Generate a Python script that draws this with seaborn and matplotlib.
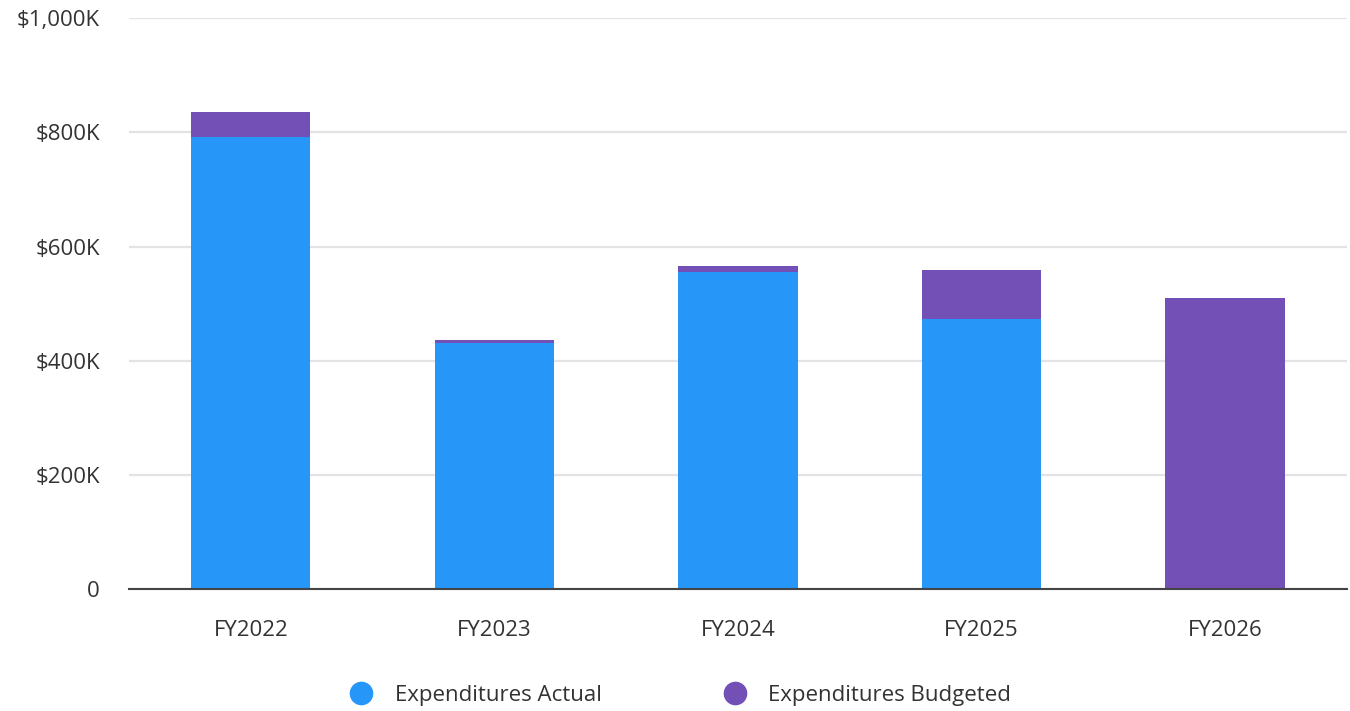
import matplotlib
matplotlib.use("Agg")
import matplotlib.pyplot as plt
from matplotlib.lines import Line2D
from matplotlib.ticker import FuncFormatter
import seaborn as sns
import pandas as pd

# Expenditures by fiscal year (thousands of dollars)
years = ["FY2022", "FY2023", "FY2024", "FY2025", "FY2026"]
actual = [791, 431, 555, 473, 0]
budgeted = [44, 5, 10, 86, 510]

series_names = ["Expenditures Actual", "Expenditures Budgeted"]
colors = ["#2697F9", "#7250B5"]
text_color = "#333333"

sns.set_theme(style="white")
plt.rcParams["font.family"] = ["Open Sans", "DejaVu Sans"]

df = pd.DataFrame({"year": years, "actual": actual, "budgeted": budgeted})
df["total"] = df["actual"] + df["budgeted"]

fig = plt.figure(figsize=(13.5, 7.11), dpi=100)
ax = fig.add_axes([0.0956, 0.1712, 0.902, 0.8035])

# Stacked bars: full height in the budget colour, actual drawn over it
sns.barplot(data=df, x="year", y="total", color=colors[1], width=0.49,
            saturation=1, ax=ax, zorder=3, linewidth=0)
sns.barplot(data=df, x="year", y="actual", color=colors[0], width=0.49,
            saturation=1, ax=ax, zorder=4, linewidth=0)

ax.set_xlim(-0.5, len(years) - 0.5)
ax.set_ylim(0, 1000)
ax.set_yticks([0, 200, 400, 600, 800, 1000])
ax.yaxis.set_major_formatter(
    FuncFormatter(lambda v, _: "0" if v == 0 else f"${v:,.0f}K"))
ax.grid(axis="y", color="#e3e3e3", linewidth=1.6, zorder=0)
ax.grid(axis="x", visible=False)
ax.set_xlabel("")
ax.set_ylabel("")

for side in ["top", "right", "left"]:
    ax.spines[side].set_visible(False)
ax.spines["bottom"].set_color("#444444")
ax.spines["bottom"].set_linewidth(1.5)
ax.spines["bottom"].set_zorder(5)

ax.tick_params(axis="y", length=0, pad=21, labelsize=16, labelcolor=text_color)
ax.tick_params(axis="x", length=0, pad=22, labelsize=16, labelcolor=text_color)

handles = [Line2D([0], [0], marker="o", linestyle="", markersize=16,
                  markerfacecolor=c, markeredgecolor=c) for c in colors]
fig.legend(handles, series_names, loc="center", bbox_to_anchor=(0.50, 0.022),
           ncol=2, frameon=False, fontsize=16, labelcolor=text_color,
           handletextpad=0.5, columnspacing=5.0)

fig.savefig("out.png", dpi=100, facecolor="white")
